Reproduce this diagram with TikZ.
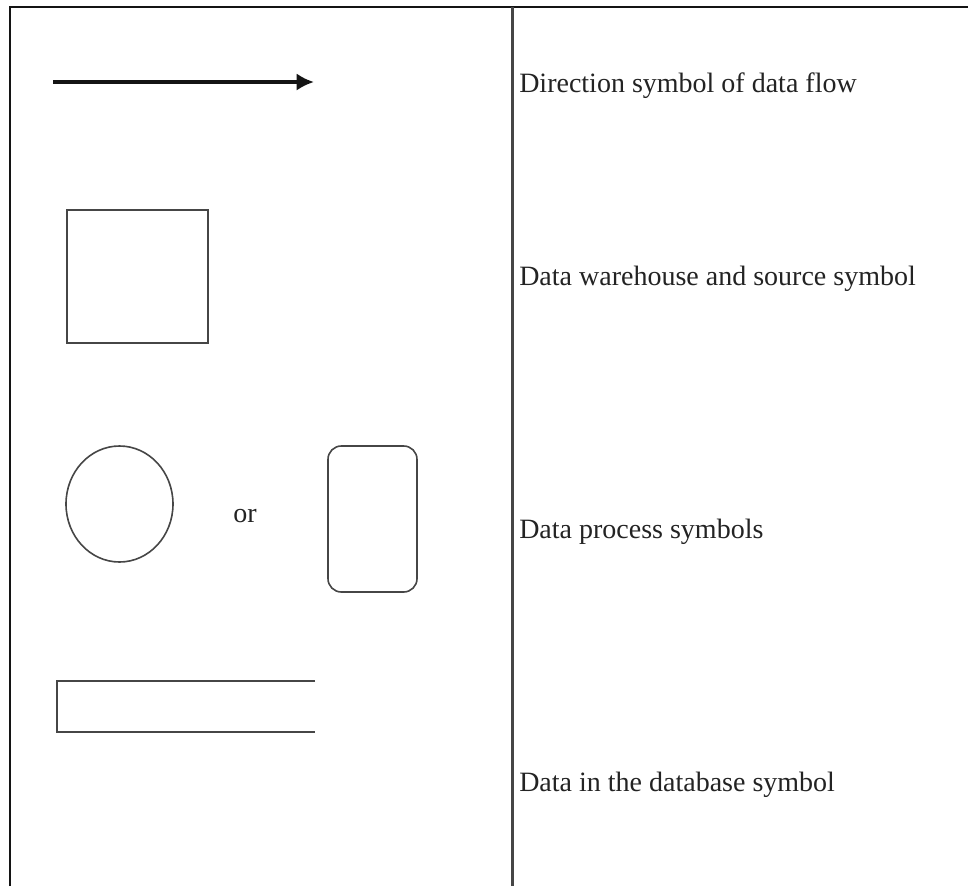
\documentclass[tikz,border=0pt]{standalone}
\usepackage{fontspec}
\setmainfont{Liberation Serif}
\usepackage{tikz}
\usetikzlibrary{arrows.meta,positioning,shapes.geometric}
\definecolor{frameline}{RGB}{20,20,20}
\definecolor{symline}{RGB}{70,70,70}
\definecolor{labeltext}{RGB}{35,35,35}

\begin{document}
\begin{tikzpicture}[x=0.75pt,y=-0.75pt,
every node/.style={font=\fontsize{21}{24}\selectfont,text=labeltext},
sym/.style={draw=symline,line width=1.2pt,inner sep=0pt,outer sep=0pt},
lbl/.style={anchor=base west,inner sep=0pt},
flow/.style={-{Latex[length=13pt,width=13pt]},line width=2.6pt,draw=frameline}]
\useasboundingbox (0,0) rectangle (968,886);
% frame and divider
\coordinate (topL) at (10,7);
\coordinate (topR) at (968,7);
\coordinate (botL) at (10,886);
\coordinate (divT) at (512.5,7);
\coordinate (divB) at (512.5,886);
\draw[frameline,line width=1.7pt] (botL) -- (topL) -- (topR);
\draw[symline,line width=1.6pt] (divT) -- (divB);
% symbols
\coordinate (flowA) at (53,82);
\coordinate (flowB) at (314,82);
\draw[flow] (flowA) -- (flowB);
\node[sym,rectangle,minimum width=105.75pt,minimum height=99.75pt] (store) at (137.5,276.5) {};
\node[sym,ellipse,minimum width=80.25pt,minimum height=87pt] (procA) at (119.5,504) {};
\node[anchor=base,inner sep=0pt] (orword) at (245,522) {or};
\node[sym,rectangle,rounded corners=10pt,minimum width=66.75pt,minimum height=109.5pt] (procB) at (372.5,519) {};
\coordinate (dbTR) at (315,681);
\coordinate (dbTL) at (57,681);
\coordinate (dbBL) at (57,732);
\coordinate (dbBR) at (315,732);
\draw[symline,line width=1.2pt] (dbTR) -- (dbTL) -- (dbBL) -- (dbBR);
% labels
\node[lbl] (lflow) at (519,92) {Direction symbol of data flow};
\node[lbl] (lstore) at (519,285) {Data warehouse and source symbol};
\node[lbl] (lproc) at (519,538) {Data process symbols};
\node[lbl] (ldb) at (519,791) {Data in the database symbol};
\end{tikzpicture}
\end{document}
